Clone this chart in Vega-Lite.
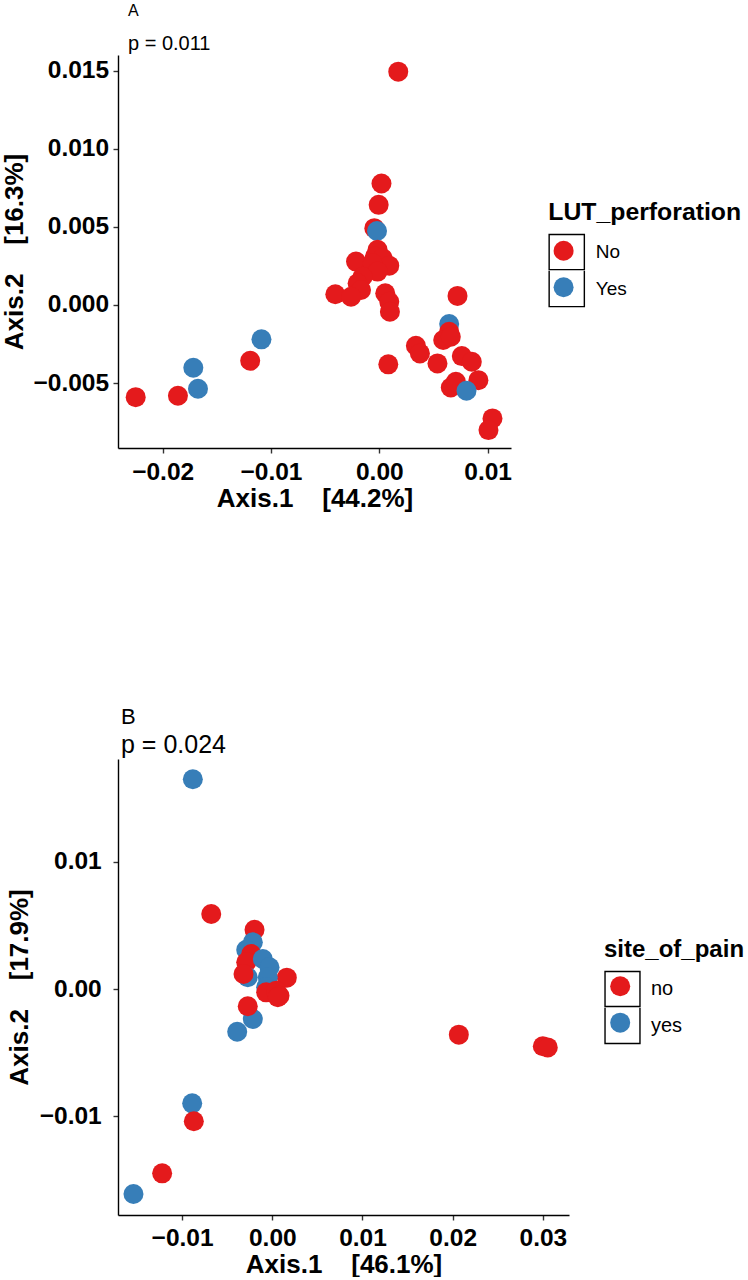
{
  "$schema": "https://vega.github.io/schema/vega-lite/v6.json",
  "background": "white",
  "padding": {"left": 1, "top": 2, "right": 0, "bottom": 0},
  "spacing": 194,
  "resolve": {
    "scale": {"color": "independent", "shape": "independent"},
    "legend": {"color": "independent", "shape": "independent"}
  },
  "config": {
    "view": {"stroke": null},
    "font": "Liberation Sans",
    "axis": {
      "grid": false,
      "domainColor": "black",
      "domainWidth": 1.4,
      "tickColor": "#333333",
      "tickWidth": 1.4,
      "tickSize": 5,
      "labelColor": "black",
      "labelFont": "Liberation Sans",
      "labelFontSize": 24.5,
      "labelFontWeight": "bold",
      "titleColor": "black",
      "titleFont": "Liberation Sans",
      "titleFontSize": 26,
      "titleFontWeight": "bold"
    },
    "legend": {
      "titleFont": "Liberation Sans",
      "titleFontWeight": "bold",
      "titleColor": "black",
      "titleFontSize": 24.8,
      "titleLimit": 400,
      "labelFont": "Liberation Sans",
      "labelColor": "black"
    }
  },
  "vconcat": [
    {
      "width": 393,
      "height": 393,
      "title": {
        "text": "\u00a0A",
        "subtitle": "p = 0.011",
        "anchor": "start",
        "frame": "group",
        "font": "Liberation Sans",
        "fontSize": 16,
        "fontWeight": "normal",
        "color": "black",
        "subtitleFont": "Liberation Sans",
        "subtitleFontSize": 20,
        "subtitleColor": "black",
        "subtitlePadding": 15,
        "offset": 1.5,
        "dx": 10
      },
      "data": {
        "values": [
          {"axis1": 0.00175, "axis2": 0.01494, "LUT_perforation": "No"},
          {"axis1": 0.0002, "axis2": 0.00778, "LUT_perforation": "No"},
          {"axis1": -0.00006, "axis2": 0.00641, "LUT_perforation": "No"},
          {"axis1": -0.00046, "axis2": 0.00492, "LUT_perforation": "No"},
          {"axis1": -0.00021, "axis2": 0.00474, "LUT_perforation": "Yes"},
          {"axis1": -0.00016, "axis2": 0.00353, "LUT_perforation": "No"},
          {"axis1": -0.0004, "axis2": 0.0031, "LUT_perforation": "No"},
          {"axis1": 0.0003, "axis2": 0.003, "LUT_perforation": "No"},
          {"axis1": -0.00215, "axis2": 0.00278, "LUT_perforation": "No"},
          {"axis1": 0.00092, "axis2": 0.00252, "LUT_perforation": "No"},
          {"axis1": -0.00062, "axis2": 0.00267, "LUT_perforation": "No"},
          {"axis1": -0.00016, "axis2": 0.00214, "LUT_perforation": "No"},
          {"axis1": -0.00154, "axis2": 0.00181, "LUT_perforation": "No"},
          {"axis1": -0.002, "axis2": 0.00139, "LUT_perforation": "No"},
          {"axis1": -0.00169, "axis2": 0.00096, "LUT_perforation": "No"},
          {"axis1": -0.00406, "axis2": 0.00069, "LUT_perforation": "No"},
          {"axis1": -0.00261, "axis2": 0.00053, "LUT_perforation": "No"},
          {"axis1": 0.00055, "axis2": 0.00075, "LUT_perforation": "No"},
          {"axis1": 0.00092, "axis2": 0.00021, "LUT_perforation": "No"},
          {"axis1": 0.00098, "axis2": -0.00043, "LUT_perforation": "No"},
          {"axis1": 0.00722, "axis2": 0.00058, "LUT_perforation": "No"},
          {"axis1": 0.00645, "axis2": -0.00122, "LUT_perforation": "Yes"},
          {"axis1": 0.00645, "axis2": -0.00171, "LUT_perforation": "No"},
          {"axis1": 0.0059, "axis2": -0.00224, "LUT_perforation": "No"},
          {"axis1": 0.0066, "axis2": -0.00203, "LUT_perforation": "No"},
          {"axis1": 0.00338, "axis2": -0.00261, "LUT_perforation": "No"},
          {"axis1": 0.00375, "axis2": -0.0031, "LUT_perforation": "No"},
          {"axis1": 0.00083, "axis2": -0.0038, "LUT_perforation": "No"},
          {"axis1": 0.00537, "axis2": -0.00374, "LUT_perforation": "No"},
          {"axis1": 0.00762, "axis2": -0.00327, "LUT_perforation": "No"},
          {"axis1": 0.00854, "axis2": -0.00363, "LUT_perforation": "No"},
          {"axis1": 0.00915, "axis2": -0.00481, "LUT_perforation": "No"},
          {"axis1": 0.0066, "axis2": -0.00528, "LUT_perforation": "No"},
          {"axis1": 0.00707, "axis2": -0.00492, "LUT_perforation": "No"},
          {"axis1": 0.00805, "axis2": -0.00549, "LUT_perforation": "Yes"},
          {"axis1": 0.01045, "axis2": -0.00726, "LUT_perforation": "No"},
          {"axis1": 0.01008, "axis2": -0.00801, "LUT_perforation": "No"},
          {"axis1": -0.01192, "axis2": -0.00357, "LUT_perforation": "No"},
          {"axis1": -0.01088, "axis2": -0.0022, "LUT_perforation": "Yes"},
          {"axis1": -0.01717, "axis2": -0.00402, "LUT_perforation": "Yes"},
          {"axis1": -0.01674, "axis2": -0.00536, "LUT_perforation": "Yes"},
          {"axis1": -0.01859, "axis2": -0.00581, "LUT_perforation": "No"},
          {"axis1": -0.02249, "axis2": -0.0059, "LUT_perforation": "No"}
        ]
      },
      "encoding": {
        "x": {
          "field": "axis1",
          "type": "quantitative",
          "scale": {"domain": [-0.024124, 0.012159], "nice": false, "zero": false},
          "axis": {
            "title": "Axis.1\u00a0\u00a0\u00a0\u00a0[44.2%]",
            "values": [-0.02, -0.01, 0, 0.01],
            "format": ".2f",
            "labelPadding": 7,
            "titlePadding": 2
          }
        },
        "y": {
          "field": "axis2",
          "type": "quantitative",
          "scale": {"domain": [-0.009155, 0.016005], "nice": false, "zero": false},
          "axis": {
            "title": "Axis.2\u00a0\u00a0\u00a0\u00a0[16.3%]",
            "values": [-0.005, 0, 0.005, 0.01, 0.015],
            "format": ".3f",
            "labelPadding": 4.4,
            "titlePadding": 5
          }
        }
      },
      "layer": [
        {
          "mark": {"type": "point", "filled": true, "opacity": 1, "size": 400},
          "encoding": {
            "color": {
              "field": "LUT_perforation",
              "type": "nominal",
              "scale": {"domain": ["No", "Yes"], "range": ["#E41A1C", "#377EB8"]},
              "legend": {
                "title": null,
                "orient": "none",
                "legendX": 435.6,
                "legendY": 185.7,
                "symbolType": "circle",
                "symbolSize": 400,
                "symbolStrokeWidth": 0,
                "symbolOpacity": 1,
                "rowPadding": 16.6,
                "labelExpr": "''",
                "labelFontSize": 1,
                "labelOffset": 0
              }
            }
          }
        },
        {
          "mark": {"type": "point", "filled": true, "color": "black", "opacity": 0, "size": 400},
          "encoding": {
            "shape": {
              "field": "LUT_perforation",
              "type": "nominal",
              "scale": {
                "range": [
                  "M-1,-1L1,-1L1,1L-1,1ZM-0.923,-0.923L-0.923,0.923L0.923,0.923L0.923,-0.923Z",
                  "M-1,-1L-1,1L1,1L1,-1L0.923,-1L0.923,0.923L-0.923,0.923L-0.923,-1Z"
                ]
              },
              "legend": {
                "title": "LUT_perforation",
                "orient": "none",
                "legendX": 430.25,
                "legendY": 144.75,
                "titlePadding": 9,
                "symbolSize": 1340,
                "symbolStrokeWidth": 0,
                "symbolFillColor": "black",
                "symbolOpacity": 1,
                "rowPadding": 0,
                "labelFontSize": 19,
                "labelOffset": 10.5,
                "encode": {
                  "symbols": {
                    "update": {
                      "fill": {"value": "black"},
                      "fillOpacity": {"value": 1},
                      "stroke": {"value": "transparent"},
                      "strokeWidth": {"value": 0},
                      "opacity": {"value": 1}
                    }
                  }
                }
              }
            }
          }
        }
      ]
    },
    {
      "width": 451,
      "height": 456,
      "title": {
        "text": "B",
        "subtitle": "p = 0.024",
        "anchor": "start",
        "frame": "group",
        "font": "Liberation Sans",
        "fontSize": 22,
        "fontWeight": "normal",
        "color": "black",
        "subtitleFont": "Liberation Sans",
        "subtitleFontSize": 25,
        "subtitleColor": "black",
        "subtitlePadding": 4,
        "offset": 0,
        "dx": 3
      },
      "data": {
        "values": [
          {"axis1": -0.00881, "axis2": 0.01649, "site_of_pain": "yes"},
          {"axis1": -0.00677, "axis2": 0.0059, "site_of_pain": "no"},
          {"axis1": -0.00197, "axis2": 0.00466, "site_of_pain": "no"},
          {"axis1": -0.00216, "axis2": 0.00367, "site_of_pain": "yes"},
          {"axis1": -0.00289, "axis2": 0.00309, "site_of_pain": "yes"},
          {"axis1": -0.00234, "axis2": 0.00275, "site_of_pain": "no"},
          {"axis1": -0.00289, "axis2": 0.0021, "site_of_pain": "no"},
          {"axis1": -0.00105, "axis2": 0.00236, "site_of_pain": "yes"},
          {"axis1": -0.00272, "axis2": 0.00092, "site_of_pain": "yes"},
          {"axis1": -0.00319, "axis2": 0.00118, "site_of_pain": "no"},
          {"axis1": 0.00161, "axis2": 0.00089, "site_of_pain": "no"},
          {"axis1": -0.00031, "axis2": 0.00171, "site_of_pain": "yes"},
          {"axis1": -0.0005, "axis2": 0.00092, "site_of_pain": "yes"},
          {"axis1": -0.00068, "axis2": 0.00013, "site_of_pain": "yes"},
          {"axis1": -0.00068, "axis2": -0.00026, "site_of_pain": "no"},
          {"axis1": 0.00043, "axis2": -0.00013, "site_of_pain": "no"},
          {"axis1": 0.0008, "axis2": -0.00053, "site_of_pain": "no"},
          {"axis1": 0.00061, "axis2": -0.00065, "site_of_pain": "no"},
          {"axis1": -0.00216, "axis2": -0.00236, "site_of_pain": "yes"},
          {"axis1": -0.00389, "axis2": -0.00336, "site_of_pain": "yes"},
          {"axis1": -0.00272, "axis2": -0.00136, "site_of_pain": "no"},
          {"axis1": 0.02068, "axis2": -0.00359, "site_of_pain": "no"},
          {"axis1": 0.02999, "axis2": -0.0045, "site_of_pain": "no"},
          {"axis1": 0.03054, "axis2": -0.00459, "site_of_pain": "no"},
          {"axis1": -0.00888, "axis2": -0.00899, "site_of_pain": "yes"},
          {"axis1": -0.0087, "axis2": -0.0104, "site_of_pain": "no"},
          {"axis1": -0.01221, "axis2": -0.01449, "site_of_pain": "no"},
          {"axis1": -0.01539, "axis2": -0.01612, "site_of_pain": "yes"}
        ]
      },
      "encoding": {
        "x": {
          "field": "axis1",
          "type": "quantitative",
          "scale": {"domain": [-0.017106, 0.032894], "nice": false, "zero": false},
          "axis": {
            "title": "Axis.1\u00a0\u00a0\u00a0\u00a0[46.1%]",
            "values": [-0.01, 0, 0.01, 0.02, 0.03],
            "format": ".2f",
            "labelPadding": 6.5,
            "titlePadding": 1
          }
        },
        "y": {
          "field": "axis2",
          "type": "quantitative",
          "scale": {"domain": [-0.017767, 0.018082], "nice": false, "zero": false},
          "axis": {
            "title": "Axis.2\u00a0\u00a0\u00a0\u00a0[17.9%]",
            "values": [-0.01, 0, 0.01],
            "format": ".2f",
            "labelPadding": 11.8,
            "titlePadding": 7
          }
        }
      },
      "layer": [
        {
          "mark": {"type": "point", "filled": true, "opacity": 1, "size": 400},
          "encoding": {
            "color": {
              "field": "site_of_pain",
              "type": "nominal",
              "scale": {"domain": ["no", "yes"], "range": ["#E41A1C", "#377EB8"]},
              "legend": {
                "title": null,
                "orient": "none",
                "legendX": 492.2,
                "legendY": 217.3,
                "symbolType": "circle",
                "symbolSize": 400,
                "symbolStrokeWidth": 0,
                "symbolOpacity": 1,
                "rowPadding": 16.35,
                "labelExpr": "''",
                "labelFontSize": 1,
                "labelOffset": 0
              }
            }
          }
        },
        {
          "mark": {"type": "point", "filled": true, "color": "black", "opacity": 0, "size": 400},
          "encoding": {
            "shape": {
              "field": "site_of_pain",
              "type": "nominal",
              "scale": {
                "range": [
                  "M-1,-1L1,-1L1,1L-1,1ZM-0.923,-0.923L-0.923,0.923L0.923,0.923L0.923,-0.923Z",
                  "M-1,-1L-1,1L1,1L1,-1L0.923,-1L0.923,0.923L-0.923,0.923L-0.923,-1Z"
                ]
              },
              "legend": {
                "title": "site_of_pain",
                "orient": "none",
                "legendX": 486,
                "legendY": 178.5,
                "titlePadding": 9,
                "titleFontSize": 24,
                "symbolSize": 1321,
                "symbolStrokeWidth": 0,
                "symbolFillColor": "black",
                "symbolOpacity": 1,
                "rowPadding": 0,
                "labelFontSize": 20,
                "labelOffset": 10,
                "encode": {
                  "symbols": {
                    "update": {
                      "fill": {"value": "black"},
                      "fillOpacity": {"value": 1},
                      "stroke": {"value": "transparent"},
                      "strokeWidth": {"value": 0},
                      "opacity": {"value": 1}
                    }
                  }
                }
              }
            }
          }
        }
      ]
    }
  ]
}
